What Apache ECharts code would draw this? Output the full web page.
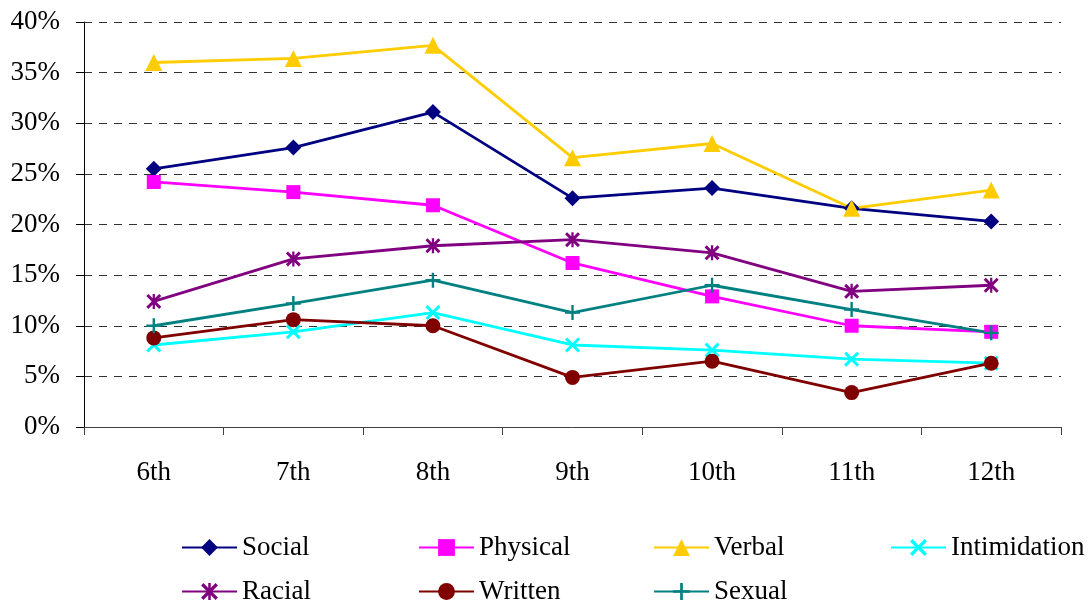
<!DOCTYPE html>
<html>
<head>
<meta charset="utf-8">
<title>Bullying by grade</title>
<script src="https://cdn.jsdelivr.net/npm/echarts@6/dist/echarts.min.js"></script>
<style>
  html, body { margin: 0; padding: 0; background: #fff; }
  #chart { width: 1092px; height: 603px; }
</style>
</head>
<body>
<div id="chart"></div>
<script>
// Grade levels along the x axis
const grades = ['6th', '7th', '8th', '9th', '10th', '11th', '12th'];

// Percent of students reporting each type, by grade
const social       = [25.5, 27.6, 31.1, 22.6, 23.6, 21.6, 20.3];
const physical     = [24.2, 23.2, 21.9, 16.2, 12.9, 10.0, 9.4];
const verbal       = [36.0, 36.4, 37.7, 26.6, 28.0, 21.6, 23.4];
const intimidation = [8.1, 9.4, 11.3, 8.1, 7.6, 6.7, 6.3];
const racial       = [12.4, 16.6, 17.9, 18.5, 17.2, 13.4, 14.0];
const written      = [8.8, 10.6, 10.0, 4.9, 6.5, 3.4, 6.3];
const sexual       = [10.0, 12.2, 14.5, 11.3, 14.0, 11.6, 9.3];

// Y axis ticks (percent)
const yMin = 0, yMax = 40, yStep = 5;

const FONT = "'Liberation Serif', 'Times New Roman', serif";

// Marker shapes drawn as filled outlines
const xMark = 'path://M0 1.4L1.4 0L5 3.6L8.6 0L10 1.4L6.4 5L10 8.6L8.6 10L5 6.4L1.4 10L0 8.6L3.6 5Z';
const starMark = 'path://M0 1.4L1.4 0L5 3.6L8.6 0L10 1.4L6.4 5L10 8.6L8.6 10L5 6.4L1.4 10L0 8.6L3.6 5ZM4.25 0H5.75V10H4.25Z';
const plusMark = 'path://M4.2 0H5.8V4.2H10V5.8H5.8V10H4.2V5.8H0V4.2H4.2Z';

function lineSeries(name, data, color, symbol, size) {
  return {
    name: name,
    type: 'line',
    data: data,
    symbol: symbol,
    symbolSize: size,
    showAllSymbol: true,
    lineStyle: { color: color, width: 2.8 },
    itemStyle: { color: color },
    emphasis: { disabled: true }
  };
}

// One legend block per entry so the columns line up on a fixed grid
function legendItem(name, left, top) {
  return {
    data: [name],
    left: left,
    top: top,
    padding: 0,
    itemWidth: 55,
    itemHeight: 21,
    selectedMode: false,
    textStyle: { fontFamily: FONT, fontSize: 27, color: '#000' }
  };
}

const chart = echarts.init(document.getElementById('chart'), null, { renderer: 'canvas' });
chart.setOption({
  animation: false,
  backgroundColor: '#fff',
  grid: { left: 84, right: 31, top: 22, bottom: 176 },
  legend: [
    legendItem('Social', 181, 534),
    legendItem('Physical', 418, 534),
    legendItem('Verbal', 653, 534),
    legendItem('Intimidation', 890, 534),
    legendItem('Racial', 181, 578),
    legendItem('Written', 418, 578),
    legendItem('Sexual', 653, 578)
  ],
  xAxis: {
    type: 'category',
    data: grades,
    boundaryGap: true,
    axisLine: { show: true, lineStyle: { color: '#404040', width: 1 } },
    axisTick: { show: true, length: 8, lineStyle: { color: '#404040' } },
    axisLabel: { fontFamily: FONT, fontSize: 27, color: '#000', margin: 32 },
    splitLine: { show: false }
  },
  yAxis: {
    type: 'value',
    min: yMin,
    max: yMax,
    interval: yStep,
    axisLine: { show: true, lineStyle: { color: '#000', width: 1 } },
    axisTick: { show: true, length: 8, lineStyle: { color: '#000' } },
    axisLabel: { fontFamily: FONT, fontSize: 27, color: '#000', margin: 24, formatter: '{value}%' },
    splitLine: { show: true, lineStyle: { color: '#333', width: 1, type: [8, 7] } }
  },
  series: [
    lineSeries('Social', social, '#000080', 'diamond', 16),
    lineSeries('Physical', physical, '#FF00FF', 'rect', 14),
    lineSeries('Verbal', verbal, '#FFCC00', 'triangle', 17),
    lineSeries('Intimidation', intimidation, '#00FFFF', xMark, 15),
    lineSeries('Racial', racial, '#800080', starMark, 15),
    lineSeries('Written', written, '#800000', 'circle', 15),
    lineSeries('Sexual', sexual, '#008080', plusMark, 15)
  ]
});
</script>
</body>
</html>
